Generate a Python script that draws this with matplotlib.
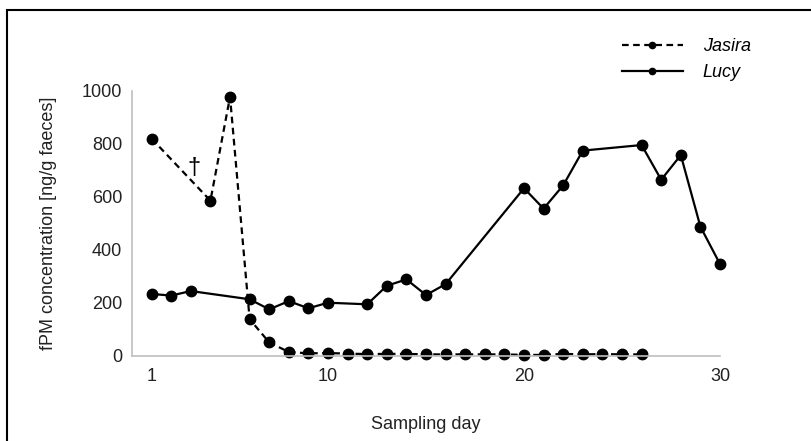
import matplotlib.pyplot as plt
from matplotlib.patches import Rectangle

plt.rcParams['font.family'] = ['Liberation Sans', 'DejaVu Sans']

# Jasira, sampled days 1, 4-26
jasira_days = [1, 4, 5, 6, 7, 8, 9, 10, 11, 12, 13, 14, 15, 16, 17, 18, 19,
               20, 21, 22, 23, 24, 25, 26]
jasira_fpm = [819, 585, 977, 138, 50, 14, 9, 10, 8, 6, 7, 7, 5, 5, 5, 5, 5,
              3, 3, 7, 5, 6, 5, 5]

# Lucy
lucy_days = [1, 2, 3, 6, 7, 8, 9, 10, 12, 13, 14, 15, 16, 20, 21, 22, 23,
             26, 27, 28, 29, 30]
lucy_fpm = [233, 227, 244, 213, 175, 206, 179, 200, 194, 264, 288, 229, 270,
            632, 555, 643, 774, 795, 664, 757, 487, 346]

fig = plt.figure(figsize=(8.12, 4.41), dpi=100)
ax = fig.add_axes([0.1626, 0.1934, 0.7241, 0.6009])

ax.plot(jasira_days, jasira_fpm, color='black', linestyle=(0, (3, 2)),
        linewidth=1.6, marker='o', markersize=7.5, label='Jasira')
ax.plot(lucy_days, lucy_fpm, color='black', linestyle='-',
        linewidth=1.6, marker='o', markersize=7.5, label='Lucy')

ax.text(3.15, 708, '\u2020', fontsize=17, ha='center', va='center')

ax.set_xlim(0, 30)
ax.set_ylim(0, 1000)
ax.set_xticks([1, 10, 20, 30])
ax.set_yticks([0, 200, 400, 600, 800, 1000])
ax.tick_params(length=0, labelsize=13, colors='#222222', pad=9)
ax.tick_params(axis='y', pad=7)

for side in ['top', 'right']:
    ax.spines[side].set_visible(False)
for side in ['left', 'bottom']:
    ax.spines[side].set_color('#bfbfbf')
    ax.spines[side].set_linewidth(1.2)
for line in ax.lines:
    line.set_clip_on(False)

ax.set_xlabel('Sampling day', fontsize=13, color='#222222', labelpad=22)
ax.set_ylabel('fPM concentration [ng/g faeces]', fontsize=13,
              color='#222222', labelpad=18)

leg = ax.legend(loc='upper right', bbox_to_anchor=(1.08, 1.26), frameon=False,
                fontsize=13, markerscale=0.6, handlelength=3.4,
                labelspacing=0.5, handletextpad=1.1)
for t in leg.get_texts():
    t.set_fontstyle('italic')

# frame around the figure
fig.patches.append(Rectangle((7 / 812, -0.05), 1.0, 1 - 10 / 441 + 0.05,
                             transform=fig.transFigure, fill=False,
                             edgecolor='black', linewidth=1.5))

fig.savefig('out.png', dpi=100)
